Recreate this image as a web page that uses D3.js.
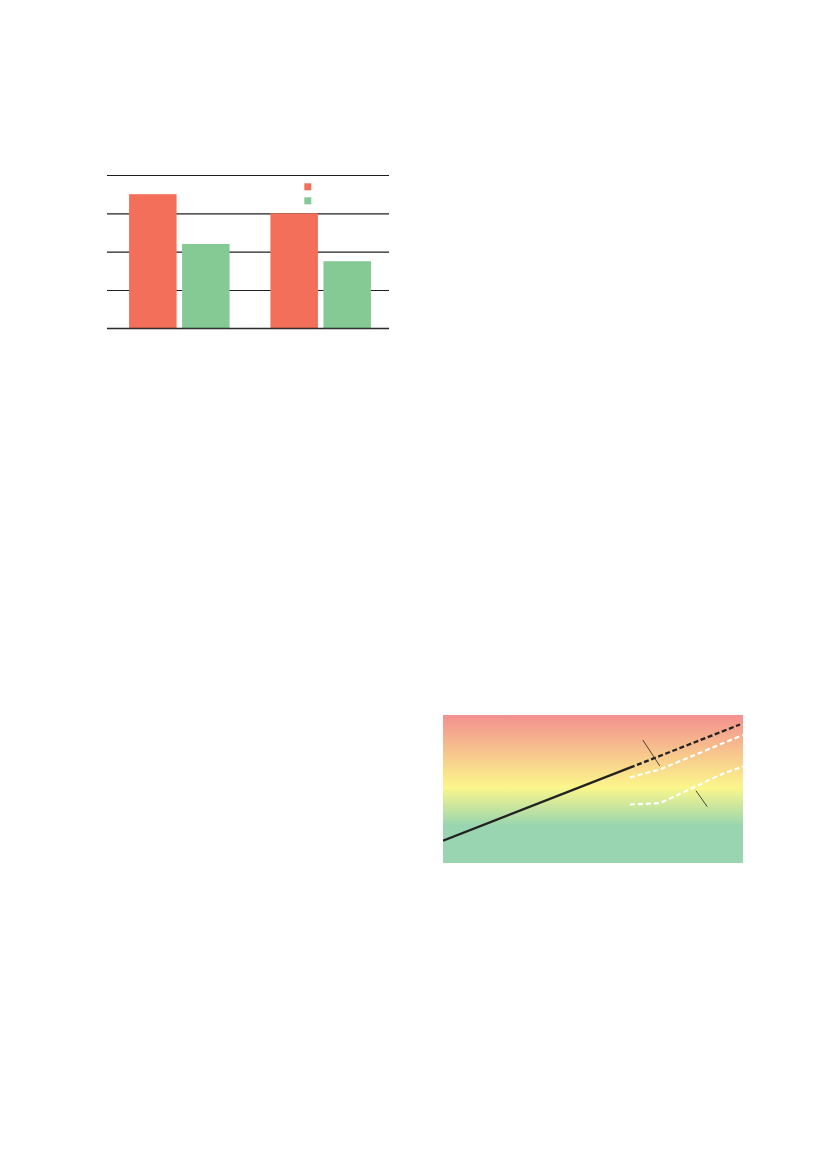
<!DOCTYPE html>
<html>
<head>
<meta charset="utf-8">
<script src="https://cdn.jsdelivr.net/npm/d3@7"></script>
<style>
  html, body { margin: 0; padding: 0; background: #fff; }
  svg { display: block; }
</style>
</head>
<body>
<script>
// ---------- Data: bar chart ----------
const barCategories = ["Group 1", "Group 2"];
const barSeries = ["Series A", "Series B"];
const seriesAValues = [3.5, 3.0];
const seriesBValues = [2.2, 1.75];
const barTicks = [0, 1, 2, 3, 4];
const barColors = ["#f36f5a", "#85ca94"];

// ---------- Data: trend chart ----------
const trendStops = [0, 0.49, 0.75, 1];
const trendStopColors = ["#f3908f", "#fbf68b", "#98d5b0", "#98d5b0"];
const blackSolidX = [0, 62.3];
const blackSolidY = [15.1, 64.4];
const blackDashX = [62.3, 99];
const blackDashY = [64.4, 93.6];
const white1X = [62.3, 72.3, 100];
const white1Y = [57.8, 63.2, 86.5];
const white2X = [62.3, 72.3, 75, 92.3, 100];
const white2Y = [39.5, 40.5, 42.9, 59.5, 65.2];
const pointer1X = [66.6, 72.3];
const pointer1Y = [83.1, 65.5];
const pointer2X = [84.3, 88.1];
const pointer2Y = [48.9, 38.0];

const W = 827, H = 1169;
const svg = d3.select("body").append("svg").attr("width", W).attr("height", H);

// ---------- Bar chart ----------
const bx0 = 107, bx1 = 389, by0 = 328.3, by1 = 175;
const yBar = d3.scaleLinear().domain([0, 4]).range([by0, by1]);
const xGroup = d3.scaleBand().domain(barCategories).range([bx0, bx1])
  .paddingInner(0.289).paddingOuter(0.142).align(0.55);
const xSeries = d3.scaleBand().domain(barSeries).range([0, xGroup.bandwidth()])
  .paddingInner(0.104).paddingOuter(0);
const color = d3.scaleOrdinal().domain(barSeries).range(barColors);

const barG = svg.append("g");
const grid = barG.append("g")
  .attr("transform", `translate(${bx0},0)`)
  .call(d3.axisLeft(yBar).tickValues(barTicks).tickSize(-(bx1 - bx0)).tickFormat(""));
grid.select(".domain").remove();
grid.selectAll(".tick line").attr("stroke", "#1e1e1e").attr("stroke-width", 1.1);

const rows = barCategories.map((c, i) => ({ cat: c, vals: [seriesAValues[i], seriesBValues[i]] }));
barG.selectAll("g.grp").data(rows).join("g")
  .attr("class", "grp")
  .attr("transform", d => `translate(${xGroup(d.cat)},0)`)
  .selectAll("rect").data(d => d.vals.map((v, j) => ({ s: barSeries[j], v })))
  .join("rect")
  .attr("x", d => xSeries(d.s))
  .attr("width", xSeries.bandwidth())
  .attr("y", d => yBar(d.v))
  .attr("height", d => yBar(0) - yBar(d.v))
  .attr("fill", d => color(d.s));
// redraw baseline over bars
barG.append("line").attr("x1", bx0).attr("x2", bx1)
  .attr("y1", yBar(0)).attr("y2", yBar(0)).attr("stroke", "#1e1e1e").attr("stroke-width", 1.1);

// legend
const legY = d3.scalePoint().domain(barSeries).range([183.3, 197.3]);
barG.selectAll("rect.leg").data(barSeries).join("rect")
  .attr("class", "leg")
  .attr("x", 304.3).attr("y", d => legY(d))
  .attr("width", 7).attr("height", 7)
  .attr("fill", d => color(d));

// ---------- Trend chart ----------
const tx = d3.scaleLinear().domain([0, 100]).range([443, 743]);
const ty = d3.scaleLinear().domain([0, 100]).range([863, 715]);

const defs = svg.append("defs");
const grad = defs.append("linearGradient").attr("id", "bg")
  .attr("x1", 0).attr("y1", 0).attr("x2", 0).attr("y2", 1);
grad.selectAll("stop").data(trendStops).join("stop")
  .attr("offset", d => d)
  .attr("stop-color", (d, i) => trendStopColors[i]);
defs.append("clipPath").attr("id", "clip").append("rect")
  .attr("x", tx(0)).attr("y", ty(100))
  .attr("width", tx(100) - tx(0)).attr("height", ty(0) - ty(100));

const tg = svg.append("g");
tg.append("rect")
  .attr("x", tx(0)).attr("y", ty(100))
  .attr("width", tx(100) - tx(0)).attr("height", ty(0) - ty(100))
  .attr("fill", "url(#bg)");

const lg = tg.append("g").attr("clip-path", "url(#clip)");
const line = d3.line().x(d => tx(d[0])).y(d => ty(d[1]));
const zip = (xs, ys) => xs.map((x, i) => [x, ys[i]]);

lg.append("path").datum(zip(blackSolidX, blackSolidY)).attr("d", line)
  .attr("fill", "none").attr("stroke", "#222").attr("stroke-width", 2.3);
lg.append("path").datum(zip(blackDashX, blackDashY)).attr("d", line)
  .attr("fill", "none").attr("stroke", "#222").attr("stroke-width", 2.3)
  .attr("stroke-dasharray", "5,2.6");
[zip(white1X, white1Y), zip(white2X, white2Y)].forEach(pts => {
  lg.append("path").datum(pts).attr("d", line)
    .attr("fill", "none").attr("stroke", "#fff").attr("stroke-width", 2.1)
    .attr("stroke-dasharray", "5,3");
});
[zip(pointer1X, pointer1Y), zip(pointer2X, pointer2Y)].forEach(pts => {
  lg.append("path").datum(pts).attr("d", line)
    .attr("fill", "none").attr("stroke", "#222").attr("stroke-width", 0.8);
});
</script>
</body>
</html>
